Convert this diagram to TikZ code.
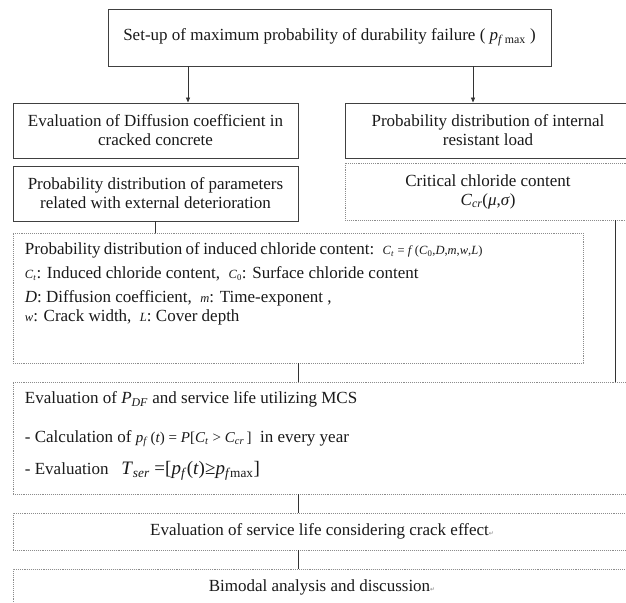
\documentclass[tikz,border=0pt]{standalone}
\usepackage{fontspec}
\setmainfont{Liberation Serif}
\newfontfamily\markfont{DejaVu Sans}
\usetikzlibrary{positioning,arrows.meta,calc}
\tikzset{
	flow/.style={x=1pt,y=-1pt,>={Triangle[length=5pt,width=4pt]},
		line width=0.8pt},
	txt/.style={font=\fontsize{17}{19}\selectfont,text=black!90},
	solidbox/.style={draw=black!75,line width=0.9pt,inner sep=0pt,align=center,txt},
	dotbox/.style={draw=black!45,densely dotted,line width=0.9pt,inner sep=0pt,align=center,txt},
	link/.style={draw=black!80,line width=0.8pt}
}
\newcommand{\mv}[1]{\textit{#1}}
\newcommand{\smallmath}{\fontsize{12.5}{19}\selectfont}
\newcommand{\midmath}{\fontsize{15}{19}\selectfont}
\newcommand{\largemath}{\fontsize{19}{19}\selectfont}
\newcommand{\retmark}{{\markfont\fontsize{6}{6}\selectfont\color{black!50}↵}}

\begin{document}
\begin{tikzpicture}[flow]
\useasboundingbox (0,0) rectangle (626,602);
\clip (0,0) rectangle (626,602);

% top level
\node[solidbox,minimum width=443pt,minimum height=57pt] (setup) at (329.5,37.5)
	{Set-up of maximum probability of durability failure ( \mv{p}\textsubscript{\mv{f}\,max} )};

% two columns
\node[solidbox,minimum width=285pt,minimum height=55pt] (diffusion) at (155.5,130.5)
	{Evaluation of Diffusion coefficient in\\cracked concrete};
\node[solidbox,minimum width=286pt,minimum height=55pt] (internal) at (488,130.5)
	{Probability distribution of internal\\resistant load};
\node[solidbox,minimum width=285pt,minimum height=55pt] (external) at (155.5,193.5)
	{Probability distribution of parameters\\related with external deterioration};
\node[dotbox,minimum width=286pt,minimum height=57pt] (critical) at (488,191.5)
	{Critical chloride content\\\mv{C}\textsubscript{\mv{cr}}(\mv{μ},\mv{σ})};

% induced chloride content
\node[dotbox,minimum width=570pt,minimum height=130pt] (induced) at (298,298) {};
\node[txt,align=left,anchor=north west,inner sep=0pt] (inducedtxt)
	at ([xshift=12pt,yshift=-9.5pt]induced.north west)
	{\spaceskip=3.4pt plus 1pt Probability distribution of induced chloride content:~ {\smallmath\mv{C}\textsubscript{\mv{t}} = \mv{f}\,(\mv{C}\textsubscript{0},\mv{D},\mv{m},\mv{w},\mv{L})}\\[5pt]
	{\smallmath\mv{C}\textsubscript{\mv{t}}}: Induced chloride content,~ {\smallmath\mv{C}\textsubscript{0}}: Surface chloride content\\[5pt]
	\mv{D}: Diffusion coefficient,~ {\smallmath\mv{m}}: Time-exponent ,\\
	{\smallmath\mv{w}}: Crack width,~ {\smallmath\mv{L}}: Cover depth};

% MCS
\node[dotbox,minimum width=618pt,minimum height=112pt] (mcs) at (322,438) {};
\node[txt,align=left,anchor=north west,inner sep=0pt] (mcstxt)
	at ([xshift=12pt,yshift=-9.5pt]mcs.north west)
	{Evaluation of \mv{P}\textsubscript{\mv{DF}} and service life utilizing MCS\\[20pt]
	- Calculation of {\midmath\mv{p}\textsubscript{\mv{f}}\,(\mv{t}) = \mv{P}[\mv{C}\textsubscript{\mv{t}} > \mv{C}\textsubscript{\mv{cr}}\,]}~ in every year\\[13pt]
	- Evaluation~~ {\largemath\mv{T}\textsubscript{\mv{ser}} =[\mv{p}\textsubscript{\mv{f}}(\mv{t})≥\mv{p}\textsubscript{\mv{f}max}]}};

% last steps
\node[dotbox,minimum width=618pt,minimum height=37pt] (service) at (322,531.5)
	{Evaluation of service life considering crack effect\retmark};
\node[dotbox,minimum width=618pt,minimum height=37pt] (bimodal) at (322,587.5)
	{\raisebox{3pt}{Bimodal analysis and discussion\retmark}};

% connectors
\draw[->,link] ([xshift=-141.5pt]setup.south) -- ([xshift=-141.5pt]setup.south |- diffusion.north);
\draw[->,link] ([xshift=143.5pt]setup.south) -- ([xshift=143.5pt]setup.south |- internal.north);
\draw[link] (external.south) -- (external.south |- induced.north);
\draw[link] (induced.south) -- (induced.south |- mcs.north);
\draw[link] ([xshift=127pt]critical.south) -- ([xshift=127pt]critical.south |- mcs.north);
\draw[link] (induced.south |- mcs.south) -- (induced.south |- service.north);
\draw[link] (induced.south |- service.south) -- (induced.south |- bimodal.north);
\end{tikzpicture}
\end{document}
